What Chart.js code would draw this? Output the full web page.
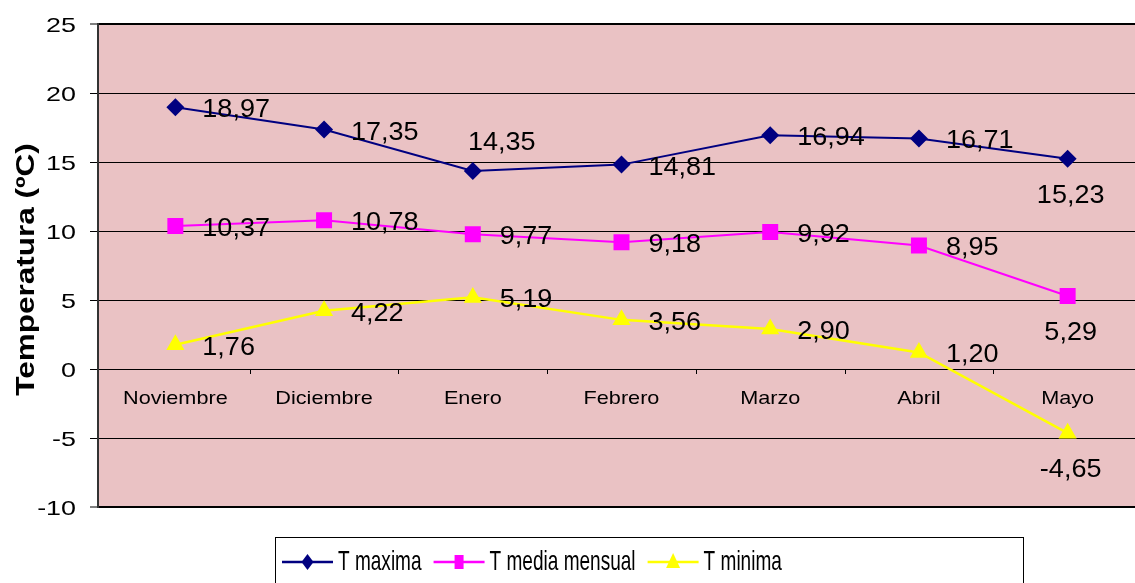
<!DOCTYPE html>
<html>
<head>
<meta charset="utf-8">
<title>Temperatura mensual</title>
<script src="https://cdn.jsdelivr.net/npm/chart.js@4.4.1/dist/chart.umd.min.js"></script>
<style>
  html, body { margin: 0; padding: 0; background: #ffffff; }
  canvas { display: block; }
</style>
</head>
<body>
<canvas id="chart" width="1135" height="583"></canvas>
<script>
// Months on the category axis
const categories = ['Noviembre', 'Diciembre', 'Enero', 'Febrero', 'Marzo', 'Abril', 'Mayo'];

// Monthly temperatures (ºC)
const tMaxima = [18.97, 17.35, 14.35, 14.81, 16.94, 16.71, 15.23];
const tMedia  = [10.37, 10.78, 9.77, 9.18, 9.92, 8.95, 5.29];
const tMinima = [1.76, 4.22, 5.19, 3.56, 2.90, 1.20, -4.65];

const seriesNames = ['T maxima', 'T media mensual', 'T minima'];
const yTickValues = [-10, -5, 0, 5, 10, 15, 20, 25];
const yTitle = 'Temperatura (ºC)';

// Where each value label sits relative to its point
const placeMaxima = ['right', 'right', 'above', 'right', 'right', 'right', 'below'];
const placeMedia  = ['right', 'right', 'right', 'right', 'right', 'right', 'below'];
const placeMinima = ['right', 'right', 'right', 'right', 'right', 'right', 'below'];
const labelPlacements = [placeMaxima, placeMedia, placeMinima];

const FONT = '"Liberation Sans", Arial, Helvetica, sans-serif';

// Text drawn with a horizontal stretch factor, baseline is alphabetic
function scaledText(ctx, text, x, y, size, sx, align, weight) {
  ctx.save();
  ctx.translate(x, y);
  ctx.scale(sx, 1);
  ctx.font = (weight || 'normal') + ' ' + size + 'px ' + FONT;
  ctx.textAlign = align;
  ctx.textBaseline = 'alphabetic';
  ctx.fillStyle = '#000000';
  ctx.fillText(text, 0, 0);
  ctx.restore();
}

// The category band runs a little past the plot's right edge
const categoryBand = {
  id: 'categoryBand',
  afterLayout(chart) {
    const xs = chart.scales.x;
    xs.left = chart.chartArea.left + 3;
    xs.right = chart.chartArea.right + 7;
    xs.configure();
  }
};

const plotBackground = {
  id: 'plotBackground',
  beforeDraw(chart) {
    const { ctx, chartArea: a } = chart;
    ctx.save();
    ctx.fillStyle = '#eac2c4';
    ctx.fillRect(a.left, a.top, a.right - a.left, a.bottom - a.top);
    ctx.restore();
  }
};

// Category names under the zero line, boundary ticks, y labels and title
const axisText = {
  id: 'axisText',
  beforeDatasetsDraw(chart) {
    const ctx = chart.ctx;
    const xs = chart.scales.x;
    const ys = chart.scales.y;
    const zeroY = ys.getPixelForValue(0);

    // tick marks between categories, hanging from the zero line
    ctx.save();
    ctx.strokeStyle = '#000000';
    ctx.lineWidth = 1;
    for (let i = 0; i < categories.length - 1; i++) {
      const bx = Math.round((xs.getPixelForValue(i) + xs.getPixelForValue(i + 1)) / 2) + 0.5;
      ctx.beginPath();
      ctx.moveTo(bx, zeroY);
      ctx.lineTo(bx, zeroY + 5);
      ctx.stroke();
    }
    ctx.restore();

    categories.forEach((name, i) => {
      scaledText(ctx, name, xs.getPixelForValue(i), zeroY + 28 + 7, 19, 1.14, 'center');
    });

    ys.ticks.forEach(t => {
      scaledText(ctx, String(t.value), 76, ys.getPixelForValue(t.value) + 7.5, 21, 1.28, 'right');
    });

    // rotated axis title
    const midY = (chart.chartArea.top + chart.chartArea.bottom) / 2 + 4;
    ctx.save();
    ctx.translate(34, midY);
    ctx.rotate(-Math.PI / 2);
    scaledText(ctx, yTitle, 0, 0, 25, 1.26, 'center', 'bold');
    ctx.restore();
  }
};

const valueLabels = {
  id: 'valueLabels',
  afterDatasetsDraw(chart) {
    const ctx = chart.ctx;
    chart.data.datasets.forEach((ds, di) => {
      const meta = chart.getDatasetMeta(di);
      const places = labelPlacements[di];
      meta.data.forEach((pt, i) => {
        const txt = ds.data[i].toFixed(2).replace('.', ',');
        let x = pt.x, y = pt.y, align = 'left';
        if (places[i] === 'above') { x += 29; y -= 30; align = 'center'; }
        else if (places[i] === 'below') { x += 3; y += 35; align = 'center'; }
        else { x += 27; y += 1; }
        scaledText(ctx, txt, x, y + 9, 25, 1.08, align);
      });
    });
  }
};

function legendMarker(ctx, style, x, y, color) {
  ctx.save();
  ctx.fillStyle = color;
  ctx.beginPath();
  if (style === 'rectRot') {
    ctx.moveTo(x, y - 8); ctx.lineTo(x + 6, y); ctx.lineTo(x, y + 8); ctx.lineTo(x - 6, y);
  } else if (style === 'rect') {
    ctx.rect(x - 4.5, y - 7, 9, 14);
  } else {
    ctx.moveTo(x, y - 9); ctx.lineTo(x + 7, y + 6); ctx.lineTo(x - 7, y + 6);
  }
  ctx.closePath();
  ctx.fill();
  ctx.restore();
}

const legendBox = {
  id: 'legendBox',
  afterDraw(chart) {
    const ctx = chart.ctx;
    ctx.save();
    ctx.strokeStyle = '#000000';
    ctx.lineWidth = 1;
    ctx.strokeRect(275.5, 537.5, 748, 60);
    ctx.restore();

    const lineY = 562;
    const sx = 0.68;
    let x = 282;
    chart.data.datasets.forEach(ds => {
      ctx.save();
      ctx.strokeStyle = ds.borderColor;
      ctx.lineWidth = 2.5;
      ctx.beginPath();
      ctx.moveTo(x, lineY);
      ctx.lineTo(x + 51, lineY);
      ctx.stroke();
      ctx.restore();
      legendMarker(ctx, ds.pointStyle, x + 25.5, lineY, ds.backgroundColor);
      const tx = x + 56;
      scaledText(ctx, ds.label, tx, 570, 28, sx, 'left');
      ctx.save();
      ctx.font = '28px ' + FONT;
      const w = ctx.measureText(ds.label).width * sx;
      ctx.restore();
      x = tx + w + 12;
    });
  }
};

new Chart(document.getElementById('chart').getContext('2d'), {
  type: 'line',
  data: {
    labels: categories,
    datasets: [
      {
        label: seriesNames[0], data: tMaxima,
        borderColor: '#000080', backgroundColor: '#000080', borderWidth: 2,
        pointStyle: 'rectRot', pointRadius: 9, pointBorderWidth: 0, tension: 0
      },
      {
        label: seriesNames[1], data: tMedia,
        borderColor: '#ff00ff', backgroundColor: '#ff00ff', borderWidth: 2,
        pointStyle: 'rect', pointRadius: 11.3, pointBorderWidth: 0, tension: 0
      },
      {
        label: seriesNames[2], data: tMinima,
        borderColor: '#ffff00', backgroundColor: '#ffff00', borderWidth: 2.5,
        pointStyle: 'triangle', pointRadius: 10.5, pointBorderWidth: 0, tension: 0
      }
    ]
  },
  options: {
    responsive: false,
    animation: false,
    devicePixelRatio: 1,
    events: [],
    layout: { autoPadding: false, padding: { left: 90, top: 24, right: 0, bottom: 76 } },
    plugins: {
      legend: { display: false },
      tooltip: { enabled: false },
      title: { display: false }
    },
    scales: {
      x: { type: 'category', display: false, offset: true },
      y: {
        min: -10, max: 25,
        afterBuildTicks: s => { s.ticks = yTickValues.map(v => ({ value: v })); },
        afterFit: s => { s.width = 8; },
        ticks: { display: false },
        grid: {
          color: '#000000',
          lineWidth: c => (c.tick && (c.tick.value === 25 || c.tick.value === -10)) ? 2 : 1,
          drawTicks: true, tickLength: 8, tickColor: '#000000', tickWidth: 1
        },
        border: { display: true, color: '#333333', width: 2 }
      }
    }
  },
  plugins: [categoryBand, plotBackground, axisText, valueLabels, legendBox]
});
</script>
</body>
</html>
